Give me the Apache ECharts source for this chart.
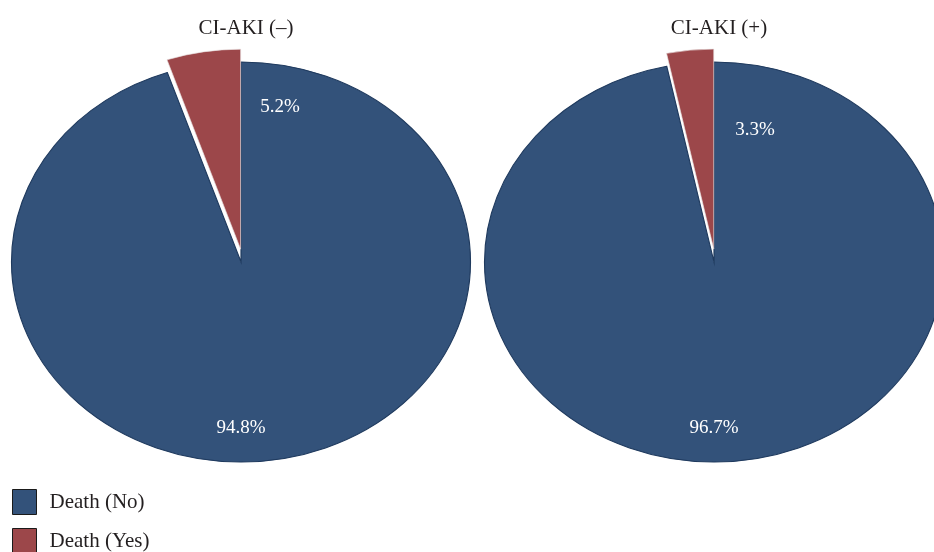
<!DOCTYPE html>
<html>
<head>
<meta charset="utf-8">
<script src="https://cdn.jsdelivr.net/npm/echarts@6/dist/echarts.min.js"></script>
<style>
html,body{margin:0;padding:0;background:#fff;}
#chart{width:934px;height:552px;}
</style>
</head>
<body>
<div id="chart"></div>
<script>
// ---- data ----
const categories = ['CI-AKI (–)', 'CI-AKI (+)'];
const seriesNames = ['Death (No)', 'Death (Yes)'];
const deathNo = [94.8, 96.7];
const deathYes = [5.2, 3.3];

// ---- layout / style ----
const FONT = '"Liberation Serif", "DejaVu Serif", serif';
const colors = ['#33527a', '#9c474a'];
const strokes = ['#1f3a5e', '#e8e0e0'];
const strokeWidths = [1, 0.6];
const centers = [[241, 262], [714, 262]];
const RX = 229.5, RY = 200;
const EXPLODE = 13;
const bigLabelOffset = [0, 166];
const smallLabelOffsets = [[39, -155], [41, -132]];

const seriesData = [deathNo, deathYes];

function makeRender(sIdx) {
  return function (params, api) {
    const p = api.value(0);
    const v = api.value(1);
    const vals = [deathNo[p], deathYes[p]];
    const total = vals[0] + vals[1];
    let before = 0;
    for (let i = 0; i < sIdx; i++) before += vals[i];
    const start = -Math.PI / 2 + before / total * Math.PI * 2;
    const end = start + v / total * Math.PI * 2;
    const mid = (start + end) / 2;
    const sx = RX / RY;
    const ex = sIdx === 1 ? EXPLODE : 0;
    const cx = centers[p][0] + ex * Math.cos(mid) * sx * 0.15;
    const cy = centers[p][1] + ex * Math.sin(mid);
    const off = sIdx === 0 ? bigLabelOffset : smallLabelOffsets[p];
    return {
      type: 'group',
      children: [
        {
          type: 'sector',
          x: cx, y: cy, scaleX: sx, scaleY: 1,
          shape: { cx: 0, cy: 0, r0: 0, r: RY, startAngle: start, endAngle: end, clockwise: true },
          style: { fill: colors[sIdx], stroke: strokes[sIdx], lineWidth: strokeWidths[sIdx], strokeNoScale: true }
        },
        {
          type: 'text',
          x: centers[p][0] + off[0], y: centers[p][1] + off[1],
          z2: 10,
          style: {
            text: v.toFixed(1) + '%',
            fill: '#ffffff',
            font: '19px ' + FONT,
            align: 'center', verticalAlign: 'middle'
          }
        }
      ]
    };
  };
}

const chart = echarts.init(document.getElementById('chart'), null, { renderer: 'canvas' });
chart.setOption({
  backgroundColor: '#ffffff',
  animation: false,
  title: categories.map((c, i) => ({
    text: c,
    left: centers[i][0],
    top: 13,
    textAlign: 'center',
    textStyle: { fontFamily: FONT, fontSize: 21, fontWeight: 'normal', color: '#231f20' }
  })),
  legend: {
    orient: 'vertical',
    left: 12,
    top: 489,
    padding: 0,
    height: 80,
    itemWidth: 24,
    itemHeight: 25,
    itemGap: 13,
    icon: 'rect',
    data: seriesNames,
    itemStyle: { borderColor: '#1a1a1a', borderWidth: 1 },
    textStyle: { fontFamily: FONT, fontSize: 21, color: '#231f20', padding: [0, 0, 0, 8] }
  },
  series: seriesNames.map((name, sIdx) => ({
    type: 'custom',
    name: name,
    coordinateSystem: 'none',
    color: colors[sIdx],
    itemStyle: { color: colors[sIdx] },
    renderItem: makeRender(sIdx),
    data: seriesData[sIdx].map((v, p) => [p, v]),
    z: sIdx
  }))
});
</script>
</body>
</html>
